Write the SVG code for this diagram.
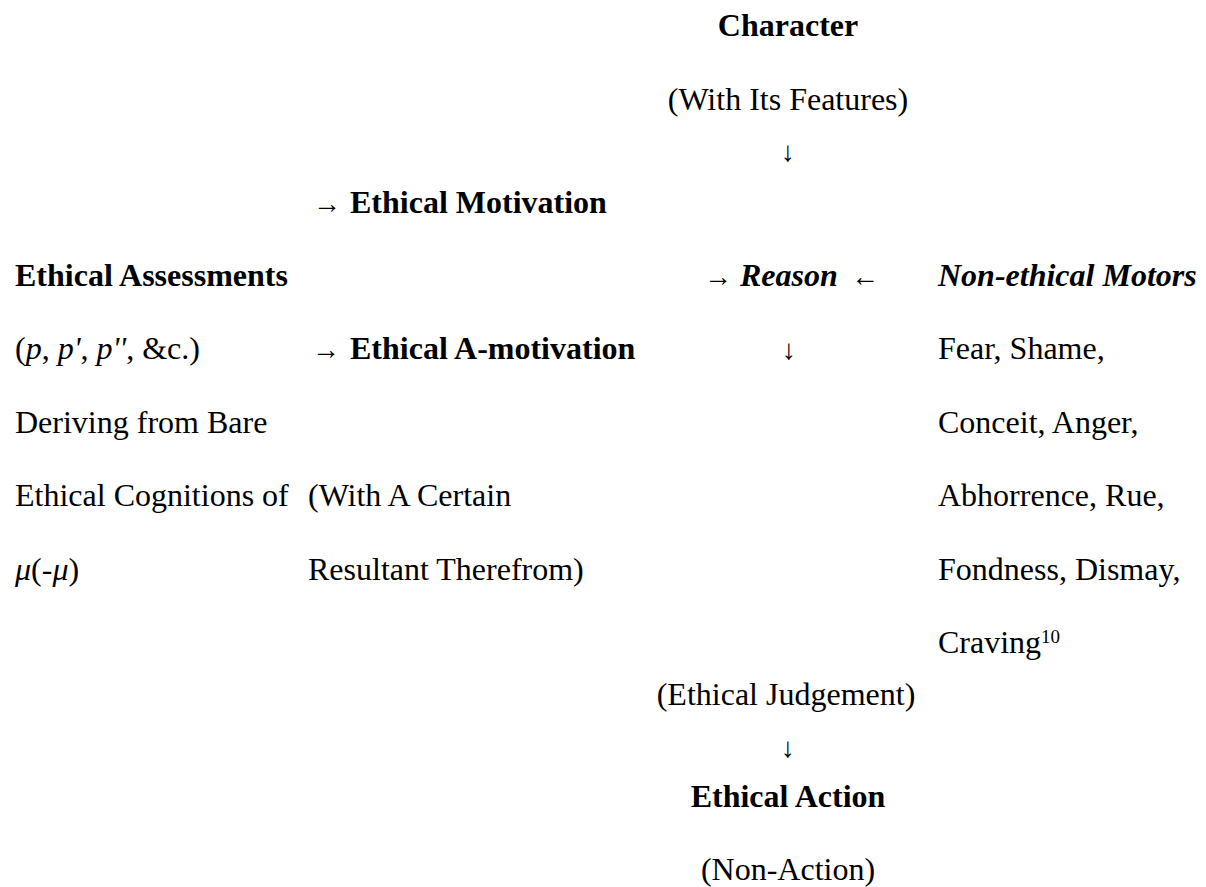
<svg xmlns="http://www.w3.org/2000/svg" width="1206" height="887" viewBox="0 0 1206 887">
<style>
text{font-family:"Liberation Serif","Times New Roman",serif;font-size:32px;fill:#000}
.b{font-weight:bold}
.bi{font-weight:bold;font-style:italic}
.i{font-style:italic}
.c{text-anchor:middle}
.sup{font-size:19px}
#connectors text{font-size:28px}
</style>
<rect width="1206" height="887" fill="#fff"/>
<g id="character">
<text class="b c" x="788" y="36">Character</text>
<text class="c" x="788" y="110">(With Its Features)</text>
</g>
<g id="ethical-motivation">
<text class="b" x="350" y="213">Ethical Motivation</text>
</g>
<g id="ethical-assessments">
<text class="b" x="15" y="286">Ethical Assessments</text>
<text x="15" y="359">(<tspan class="i">p</tspan>, <tspan class="i">p'</tspan>, <tspan class="i">p''</tspan>, &amp;c.)</text>
<text x="15" y="433">Deriving from Bare</text>
<text x="15" y="506">Ethical Cognitions of</text>
<text x="15" y="580"><tspan class="i">μ</tspan>(-<tspan class="i">μ</tspan>)</text>
</g>
<g id="ethical-a-motivation">
<text class="b" x="350" y="359">Ethical A-motivation</text>
<text x="308" y="506">(With A Certain</text>
<text x="308" y="580">Resultant Therefrom)</text>
</g>
<g id="reason">
<text class="bi" x="740" y="286">Reason</text>
</g>
<g id="non-ethical-motors">
<text class="bi" x="938" y="286">Non-ethical Motors</text>
<text x="938" y="359">Fear, Shame,</text>
<text x="938" y="433">Conceit, Anger,</text>
<text x="938" y="506">Abhorrence, Rue,</text>
<text x="938" y="580">Fondness, Dismay,</text>
<text x="938" y="653">Craving<tspan class="sup" dy="-10">10</tspan></text>
</g>
<g id="ethical-action">
<text class="c" x="786" y="705">(Ethical Judgement)</text>
<text class="b c" x="788" y="807">Ethical Action</text>
<text class="c" x="788" y="880">(Non-Action)</text>
</g>
<g id="connectors">
<text class="c" x="788" y="161">↓</text>
<text x="313" y="213">→</text>
<text x="312" y="359">→</text>
<text x="704" y="286">→</text>
<text x="851" y="286">←</text>
<text class="c" x="789" y="359">↓</text>
<text class="c" x="788" y="757">↓</text>
</g>
</svg>
